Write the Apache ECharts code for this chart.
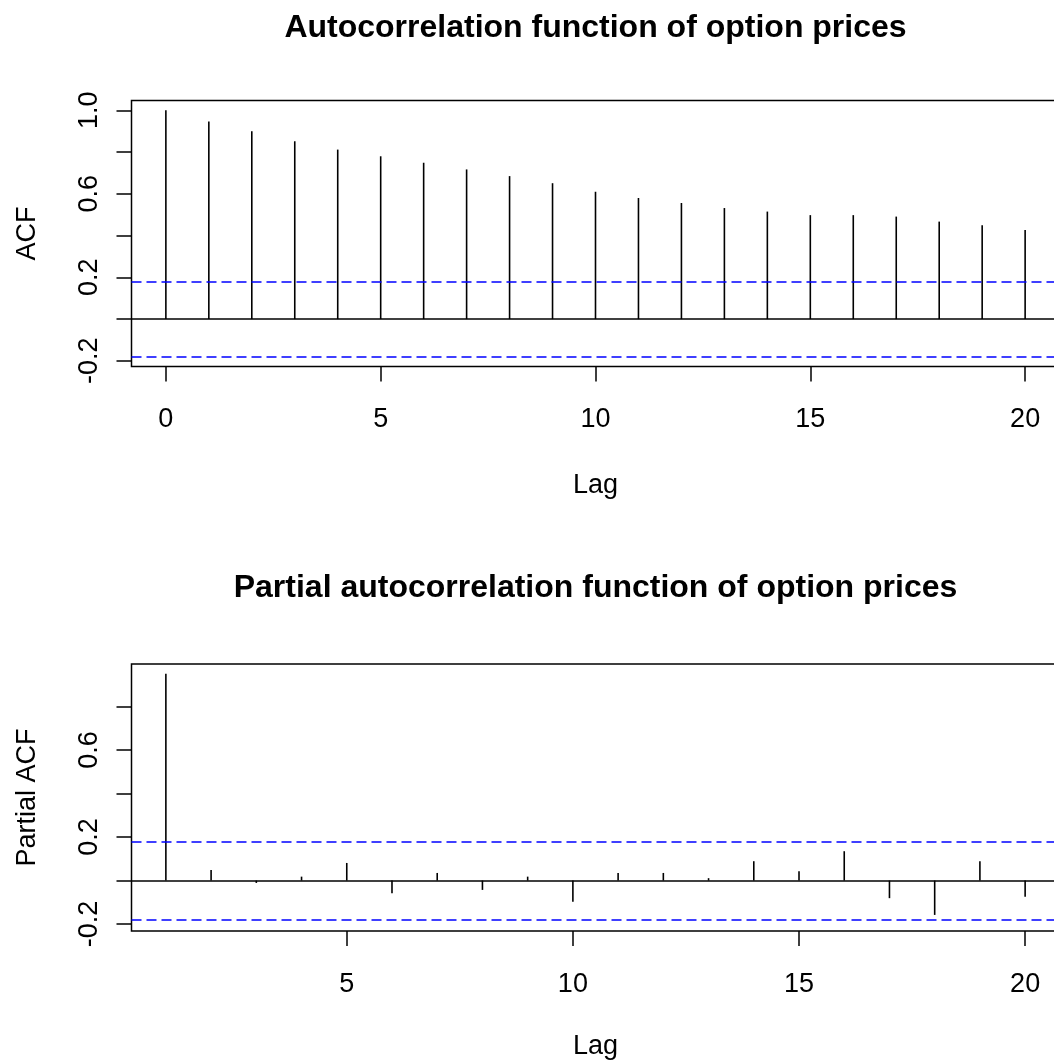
<!DOCTYPE html>
<html>
<head>
<meta charset="utf-8">
<title>ACF / PACF of option prices</title>
<script src="https://cdn.jsdelivr.net/npm/echarts@6/dist/echarts.min.js"></script>
<style>
  html, body { margin: 0; padding: 0; background: #fff; }
  #chart { width: 1054px; height: 1062px; }
</style>
</head>
<body>
<div id="chart"></div>
<script>
// Sample autocorrelations, lags 0..20
const acfLags = [0, 1, 2, 3, 4, 5, 6, 7, 8, 9, 10, 11, 12, 13, 14, 15, 16, 17, 18, 19, 20];
const acfValues = [1.000, 0.947, 0.900, 0.852, 0.812, 0.780, 0.749, 0.717, 0.685, 0.651,
                   0.610, 0.580, 0.556, 0.532, 0.515, 0.498, 0.498, 0.491, 0.467, 0.450, 0.427];

// Sample partial autocorrelations, lags 1..20
const pacfLags = [1, 2, 3, 4, 5, 6, 7, 8, 9, 10, 11, 12, 13, 14, 15, 16, 17, 18, 19, 20];
const pacfValues = [0.951, 0.049, -0.011, 0.018, 0.081, -0.058, 0.035, -0.043, 0.018, -0.097,
                    0.035, 0.035, 0.011, 0.089, 0.043, 0.135, -0.081, -0.158, 0.089, -0.074];

// 95% white-noise band
const confLimit = 0.18;

// Axis ticks and labels
const acfXTicks = [0, 5, 10, 15, 20];
const pacfXTicks = [5, 10, 15, 20];
const acfYTicks = [-0.2, 0, 0.2, 0.4, 0.6, 0.8, 1.0];
const acfYLabels = [-0.2, 0.2, 0.6, 1.0];
const pacfYTicks = [-0.2, 0, 0.2, 0.4, 0.6, 0.8];
const pacfYLabels = [-0.2, 0.2, 0.6];

const titles = ['Autocorrelation function of option prices', 'Partial autocorrelation function of option prices'];
const yNames = ['ACF', 'Partial ACF'];
const xName = 'Lag';

const FONT = "'Liberation Sans', Arial, sans-serif";
const INK = '#000';

function stemItem(params, api) {
  const x = api.value(0), y = api.value(1);
  const p0 = api.coord([x, 0]);
  const p1 = api.coord([x, y]);
  return {
    type: 'line',
    shape: { x1: p0[0], y1: p0[1], x2: p1[0], y2: p1[1] },
    style: { stroke: INK, lineWidth: 1.6 }
  };
}

function xAxisFor(gridIndex, min, max, ticks, nameGap) {
  return {
    type: 'value', gridIndex, min, max, position: 'bottom',
    splitLine: { show: false },
    axisLine: { show: false, onZero: false },
    axisTick: { show: true, customValues: ticks, length: 15, lineStyle: { color: INK, width: 1.5 } },
    axisLabel: { show: true, customValues: ticks, margin: 40, color: INK, fontSize: 27, fontFamily: FONT,
                 formatter: v => String(Math.round(v)) },
    name: xName, nameLocation: 'middle', nameGap,
    nameTextStyle: { color: INK, fontSize: 27, fontFamily: FONT }
  };
}

function yAxisFor(gridIndex, min, max, ticks, labels, name) {
  return {
    type: 'value', gridIndex, min, max, position: 'left',
    splitLine: { show: false },
    axisLine: { show: false, onZero: false },
    axisTick: { show: true, customValues: ticks, length: 15, lineStyle: { color: INK, width: 1.5 } },
    axisLabel: { show: true, customValues: labels, rotate: 90, margin: 28, color: INK, fontSize: 27,
                 fontFamily: FONT, formatter: v => v.toFixed(1) },
    name, nameLocation: 'middle', nameRotate: 90, nameGap: 90,
    nameTextStyle: { color: INK, fontSize: 27, fontFamily: FONT }
  };
}

function refLines() {
  return {
    silent: true, symbol: 'none', label: { show: false }, animation: false,
    data: [
      { yAxis: 0, lineStyle: { color: INK, width: 1.5, type: 'solid' } },
      { yAxis: confLimit, lineStyle: { color: '#0000ff', width: 1.5, type: [10, 5] } },
      { yAxis: -confLimit, lineStyle: { color: '#0000ff', width: 1.5, type: [10, 5] } }
    ]
  };
}

const chart = echarts.init(document.getElementById('chart'), null, { renderer: 'canvas' });

chart.setOption({
  animation: false,
  backgroundColor: '#fff',
  grid: [
    { left: 131.5, top: 100.5, width: 928, height: 266, outerBoundsMode: 'none', containLabel: false,
      show: true, borderColor: INK, borderWidth: 1.5 },
    { left: 131.5, top: 664, width: 928, height: 267, outerBoundsMode: 'none', containLabel: false,
      show: true, borderColor: INK, borderWidth: 1.5 }
  ],
  xAxis: [
    xAxisFor(0, -0.8, 20.8, acfXTicks, 106),
    xAxisFor(1, 0.24, 20.76, pacfXTicks, 102)
  ],
  yAxis: [
    yAxisFor(0, -0.2272, 1.0472, acfYTicks, acfYLabels, yNames[0]),
    yAxisFor(1, -0.232, 0.996, pacfYTicks, pacfYLabels, yNames[1])
  ],
  graphic: [
    { type: 'text', x: 595.5, y: 28, silent: true,
      style: { text: titles[0], font: "bold 32px " + FONT, fill: INK, textAlign: 'center', textVerticalAlign: 'middle' } },
    { type: 'text', x: 595.5, y: 588, silent: true,
      style: { text: titles[1], font: "bold 32px " + FONT, fill: INK, textAlign: 'center', textVerticalAlign: 'middle' } }
  ],
  series: [
    {
      type: 'custom', xAxisIndex: 0, yAxisIndex: 0,
      renderItem: stemItem,
      data: acfLags.map((l, i) => [l, acfValues[i]]),
      markLine: refLines()
    },
    {
      type: 'custom', xAxisIndex: 1, yAxisIndex: 1,
      renderItem: stemItem,
      data: pacfLags.map((l, i) => [l, pacfValues[i]]),
      markLine: refLines()
    }
  ]
});
</script>
</body>
</html>
